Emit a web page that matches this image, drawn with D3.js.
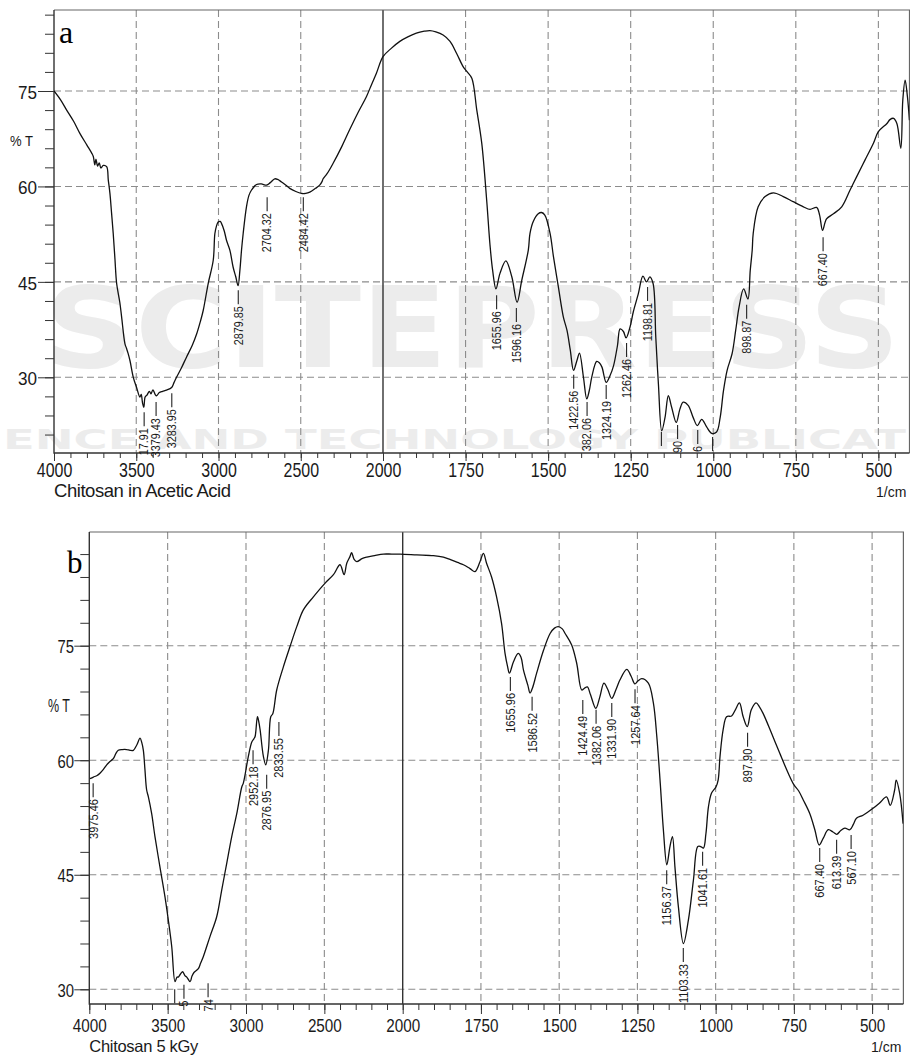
<!DOCTYPE html>
<html><head><meta charset="utf-8">
<script src="https://cdn.jsdelivr.net/npm/d3@7"></script>
<style>body{margin:0;background:#fff} svg{display:block}</style>
</head><body>
<script>
// ---------------- DATA ----------------
const aWave = [4000,3960,3923,3880,3842,3800,3770,3761,3752,3745,3735,3725,3715,3700,3680,3670,3660,3650,3640,3630,3619,3600,3589,3569,3560,3550,3538,3518,3498,3478,3470,3462,3454,3446,3435,3420,3410,3400,3393,3385,3376,3360,3340,3316,3285,3270,3255,3225,3194,3160,3133,3110,3093,3063,3032,3022,3012,3002,2990,2982,2965,2951,2931,2911,2895,2881,2870,2860,2850,2830,2815,2800,2769,2740,2708,2685,2658,2640,2617,2590,2567,2530,2496,2470,2445,2410,2385,2370,2364,2340,2304,2250,2203,2150,2101,2070,2040,2000,1975,1949,1925,1899,1875,1858,1840,1818,1797,1777,1757,1745,1731,1716,1701,1686,1676,1668,1658,1646,1628,1610,1594,1580,1560,1555,1545,1530,1520,1510,1494,1484,1469,1454,1443,1433,1423,1413,1405,1393,1383,1375,1368,1353,1345,1337,1324,1313,1302,1290,1282,1272,1264,1252,1242,1227,1213,1202,1192,1182,1174,1166,1156,1146,1136,1126,1112,1101,1091,1076,1061,1048,1035,1020,1005,990,979,969,958,943,932,922,908,895,888,882,879,864,843,818,788,758,727,707,687,678,669,657,636,611,586,566,541,515,500,474,465,454,444,432,426,419,412,406];
const aT = [75.0,73.6,72.0,70.2,68.3,66.5,65.2,64.7,63.4,64.3,63.2,63.7,62.9,63.3,63.1,61.0,58.9,55.8,52.6,48.8,44.7,41.8,39.5,35.3,34.6,33.8,32.6,30.0,28.4,26.9,27.3,26.0,25.3,26.9,27.2,27.8,27.4,28.0,27.8,27.3,27.1,27.6,27.8,28.0,28.4,29.2,30.0,31.5,33.2,35.0,36.8,38.8,40.5,44.7,48.4,52.6,53.8,54.4,54.5,54.2,53.0,51.5,50.0,47.3,45.8,44.4,46.8,50.0,52.6,56.8,58.6,59.4,60.3,60.4,60.2,60.6,61.2,61.1,60.7,60.2,59.7,59.2,58.9,58.9,59.1,59.7,60.2,60.8,61.2,62.0,63.6,66.3,68.9,71.7,74.1,76.0,77.8,80.4,81.7,82.8,83.5,84.1,84.4,84.5,84.3,83.8,82.8,80.9,78.8,78.0,77.0,72.0,66.8,57.8,50.8,46.8,43.9,46.3,48.3,45.8,41.8,45.2,50.0,52.6,54.5,55.7,55.9,55.5,52.6,49.0,44.2,39.5,37.4,34.3,31.1,32.6,33.8,30.0,26.6,28.0,30.0,32.5,32.3,31.6,29.2,30.2,31.8,35.0,37.6,37.2,36.2,37.9,40.3,43.1,45.9,45.0,45.8,44.7,36.3,28.9,21.6,23.7,27.1,25.3,22.9,25.0,26.1,25.6,23.7,22.4,23.4,22.2,21.2,21.4,23.7,27.9,31.1,33.7,37.4,41.0,43.9,42.3,46.8,50.0,52.6,56.8,58.4,59.0,58.4,57.6,56.8,56.4,56.7,55.5,53.1,54.9,55.7,56.8,59.4,61.5,64.1,66.8,68.6,69.9,70.5,70.7,69.9,66.0,73.6,76.7,74.1,70.4];

const bWave = [3996,3974,3950,3932,3910,3889,3870,3847,3830,3815,3790,3761,3740,3719,3697,3676,3665,3655,3645,3634,3623,3602,3581,3549,3517,3496,3474,3453,3440,3432,3418,3404,3390,3378,3357,3345,3332,3304,3290,3272,3230,3187,3155,3123,3091,3059,3027,3017,2985,2963,2950,2942,2927,2918,2910,2889,2874,2857,2842,2829,2804,2762,2719,2676,2634,2570,2495,2442,2400,2374,2357,2336,2326,2310,2293,2260,2229,2180,2123,2070,2017,1955,1902,1870,1849,1825,1806,1785,1769,1753,1742,1732,1716,1700,1684,1673,1665,1659,1646,1631,1622,1614,1600,1593,1585,1572,1550,1529,1515,1503,1490,1481,1460,1444,1428,1420,1410,1400,1383,1370,1357,1345,1332,1318,1306,1284,1270,1258,1248,1236,1215,1199,1188,1177,1167,1156,1146,1138,1130,1119,1103,1087,1071,1057,1048,1039,1031,1023,1013,999,992,986,976,965,949,937,924,912,899,886,871,860,848,821,795,768,750,735,720,699,683,669,656,640,625,613,600,587,571,560,550,529,497,476,454,442,428,423,412,401];
const bT = [57.6,57.8,58.0,58.3,58.8,59.4,59.8,60.2,60.9,61.3,61.4,61.4,61.3,61.3,62.0,62.9,62.3,61.3,58.8,56.1,55.2,53.0,50.0,46.0,42.1,39.1,35.6,31.0,31.6,31.6,32.0,32.3,31.8,31.6,31.0,31.7,32.2,32.7,33.4,34.3,36.9,39.5,43.0,46.5,50.0,53.0,56.5,57.0,60.5,62.4,62.8,63.1,65.7,65.0,64.0,60.5,59.4,61.3,65.7,66.1,69.2,72.2,74.9,77.5,79.7,81.4,83.2,84.3,85.6,84.3,85.8,86.7,87.2,86.3,86.0,86.4,86.6,86.8,87.0,87.0,87.0,86.9,86.8,86.6,86.3,85.9,85.6,85.1,84.7,86.0,87.1,85.8,84.0,81.4,77.9,74.0,72.3,71.4,72.9,74.0,73.5,71.8,69.8,68.8,69.5,71.4,74.4,76.6,77.3,77.5,77.2,76.6,75.1,72.7,69.2,69.4,69.6,68.6,66.8,68.3,70.1,69.3,68.1,69.3,70.5,71.9,71.0,70.0,70.4,70.7,70.1,67.5,63.1,57.0,50.9,46.3,48.7,50.0,46.0,40.8,36.0,39.1,44.3,48.7,48.7,48.5,50.4,53.9,55.7,56.5,57.4,60.5,64.0,65.7,65.8,66.6,67.5,65.7,64.4,66.6,67.5,67.0,66.1,63.5,60.9,58.3,56.8,56.0,54.8,53.0,50.9,48.9,49.8,50.9,50.6,50.3,50.8,51.1,50.9,51.6,52.4,52.8,53.7,54.4,55.2,54.1,56.1,57.4,55.7,51.7];

// peak annotation labels (wavenumber of leader line, %T at top of leader, visible text)
const aPeakWave = [3452,3379.43,3283.95,2879.85,2704.32,2484.42,1655.96,1596.16,1422.56,1382.06,1324.19,1262.46,1198.81,1157,1108,1047,1002,898.87,667.40];
const aPeakT    = [24.5,26.1,27.5,43.7,58.3,58.3,42.9,40.9,30.4,26.1,28.8,35.4,44.2,21.4,22.5,21.7,20.6,41.4,52.0];
const aPeakText = ["17.91","3379.43","3283.95","2879.85","2704.32","2484.42","1655.96","1596.16","1422.56","382.06","1324.19","1262.46","1198.81","","90","6","","898.87","667.40"];

const bPeakWave = [3975.46,3455,3396,3242,2955,2868,2790,1655.96,1586.52,1424.49,1382.06,1331.90,1257.64,1156.37,1103.33,1041.61,897.90,667.40,613.39,567.10];
const bPeakT    = [57.0,30.0,30.6,30.8,61.3,58.1,65.0,70.9,68.3,67.9,66.6,67.5,69.3,45.6,35.4,48.0,63.6,48.5,49.6,50.2];
const bPeakText = ["3975.46","","5","74","2952.18","2876.95","2833.55","1655.96","1586.52","1424.49","1382.06","1331.90","1257.64","1156.37","1103.33","1041.61","897.90","667.40","613.39","567.10"];

const xMajorTicks = [4000,3500,3000,2500,2000,1750,1500,1250,1000,750,500];
const xGridLines  = [3500,3000,2500,1750,1500,1250,1000,750,500];
const yLabelTicks = [75,60,45,30];
const aTitle = "Chitosan in Acetic Acid";
const bTitle = "Chitosan 5 kGy";
const unitLabel = "1/cm";
const yAxisLabel = "% T";
const watermark1 = "SCITEPRESS";
const watermark2 = "ENCE AND TECHNOLOGY PUBLICAT";

// ---------------- DRAW ----------------
const W = 910, H = 1055;
const svg = d3.select("body").append("svg").attr("width", W).attr("height", H);

function condense(sel, f) {
  sel.each(function () {
    const L = this.getComputedTextLength();
    if (L > 0) d3.select(this).attr("textLength", L * f).attr("lengthAdjust", "spacingAndGlyphs");
  });
}

// watermark (publisher stamp in the background)
const wm = svg.append("g").attr("fill", "#ececec").attr("font-family", "DejaVu Sans").attr("font-weight", "bold");
wm.append("text").attr("x", 44).attr("y", 367).attr("font-size", 112)
  .attr("textLength", 856).attr("lengthAdjust", "spacingAndGlyphs").text(watermark1);
wm.append("text").attr("x", 3).attr("y", 449).attr("font-size", 27)
  .attr("textLength", 903).attr("lengthAdjust", "spacingAndGlyphs").text(watermark2);

const panels = [
  {id: "a", left: 54, right: 909.5, top: 10, bottom: 453, x2000: 383, x400: 911.4, y75: 91, y30: 377.3,
   wave: aWave, t: aT, pkW: aPeakWave, pkT: aPeakT, pkTxt: aPeakText, title: aTitle,
   xFont: 21, xFactor: 0.76, xBase: 23.7, xMaj: 8, xMin: 5,
   yFont: 19, yFactor: 0.9, yLabX: -17, yMaj: 16, yMin: 9,
   pctX: 10, pctY: 146, pctFont: 15, pctLen: 23,
   titleY: 497, titleLen: 177, titleFont: 18.5, unitX: 876, unitY: 497,
   letter: {x: 59, y: 43, size: 32},
   pkFont: 12, pkFactor: 0.9, pkLen: 14},
  {id: "b", left: 89.3, right: 903.4, top: 532, bottom: 1004, x2000: 402.7, x400: 903.4, y75: 645.7, y30: 989.3,
   wave: bWave, t: bT, pkW: bPeakWave, pkT: bPeakT, pkTxt: bPeakText, title: bTitle,
   xFont: 18.6, xFactor: 0.82, xBase: 27.5, xMaj: 10, xMin: 6,
   yFont: 18.6, yFactor: 0.8, yLabX: -15.3, yMaj: 15, yMin: 9,
   pctX: 48, pctY: 711.5, pctFont: 18, pctLen: 22,
   titleY: 1052, titleLen: 109, titleFont: 16.5, unitX: 871, unitY: 1052,
   letter: {x: 67, y: 573, size: 31},
   pkFont: 12.5, pkFactor: 0.88, pkLen: 14}
];

panels.forEach(cfg => {
  const g = svg.append("g").attr("class", "panel-" + cfg.id);
  const x = d3.scaleLinear().domain([4000, 2000, 400]).range([cfg.left, cfg.x2000, cfg.x400]);
  const y = d3.scaleLinear().domain([30, 75]).range([cfg.y30, cfg.y75]);

  // grid
  g.append("g").selectAll("line").data(xGridLines).join("line")
    .attr("x1", d => x(d)).attr("x2", d => x(d)).attr("y1", cfg.top).attr("y2", cfg.bottom)
    .attr("stroke", "#8c8c8c").attr("stroke-width", 1.1).attr("stroke-dasharray", "7,4");
  g.append("g").selectAll("line").data(yLabelTicks).join("line")
    .attr("x1", cfg.left).attr("x2", cfg.right).attr("y1", d => y(d)).attr("y2", d => y(d))
    .attr("stroke", "#8c8c8c").attr("stroke-width", 1.1).attr("stroke-dasharray", "7,4");
  g.append("line").attr("x1", x(2000)).attr("x2", x(2000)).attr("y1", cfg.top).attr("y2", cfg.bottom)
    .attr("stroke", "#333").attr("stroke-width", 1.4);

  // frame
  g.append("path")
    .attr("d", `M${cfg.left},${cfg.top}H${cfg.right}V${cfg.bottom}`)
    .attr("fill", "none").attr("stroke", "#666").attr("stroke-width", 1.2);
  g.append("path")
    .attr("d", `M${cfg.left},${cfg.top}V${cfg.bottom}H${cfg.right}`)
    .attr("fill", "none").attr("stroke", "#333").attr("stroke-width", 1.4);

  // x axis
  const minorVals = d3.range(4000, 2000, -100).concat(d3.range(2000, 400, -50));
  const xMinorAxis = d3.axisBottom(x).tickValues(minorVals).tickSize(cfg.xMin).tickSizeOuter(0).tickFormat("");
  g.append("g").attr("transform", `translate(0,${cfg.bottom})`).attr("color", "#333")
    .call(xMinorAxis).call(s => s.select(".domain").remove());
  const xMajorAxis = d3.axisBottom(x).tickValues(xMajorTicks).tickSize(cfg.xMaj).tickSizeOuter(0).tickFormat(d3.format("d"));
  const gx = g.append("g").attr("transform", `translate(0,${cfg.bottom})`).attr("color", "#333")
    .call(xMajorAxis).call(s => s.select(".domain").remove());
  gx.selectAll("text").attr("y", cfg.xBase).attr("dy", 0)
    .attr("font-family", "Liberation Sans, Arial, sans-serif").attr("font-size", cfg.xFont).attr("fill", "#1a1a1a")
    .call(condense, cfg.xFactor);

  // y axis
  const yLo = Math.ceil(y.invert(cfg.bottom) / 3) * 3;
  const yMinorVals = d3.range(yLo, y.invert(cfg.top), 3);
  const yMinorAxis = d3.axisLeft(y).tickValues(yMinorVals).tickSize(cfg.yMin).tickSizeOuter(0).tickFormat("");
  g.append("g").attr("transform", `translate(${cfg.left},0)`).attr("color", "#333")
    .call(yMinorAxis).call(s => s.select(".domain").remove());
  const yMajorAxis = d3.axisLeft(y).tickValues(yLabelTicks).tickSize(cfg.yMaj).tickSizeOuter(0).tickFormat(d3.format("d"));
  const gy = g.append("g").attr("transform", `translate(${cfg.left},0)`).attr("color", "#333")
    .call(yMajorAxis).call(s => s.select(".domain").remove());
  gy.selectAll("text").attr("x", cfg.yLabX).attr("dy", "0.38em")
    .attr("font-family", "Liberation Sans, Arial, sans-serif").attr("font-size", cfg.yFont).attr("fill", "#1a1a1a")
    .call(condense, cfg.yFactor);

  // texts
  g.append("text").attr("x", cfg.pctX).attr("y", cfg.pctY)
    .attr("font-family", "Liberation Sans, Arial, sans-serif").attr("font-size", cfg.pctFont).attr("fill", "#1a1a1a")
    .attr("textLength", cfg.pctLen).attr("lengthAdjust", "spacingAndGlyphs").text(yAxisLabel);
  g.append("text").attr("x", cfg.left).attr("y", cfg.titleY)
    .attr("font-family", "Liberation Sans, Arial, sans-serif").attr("font-size", cfg.titleFont).attr("fill", "#1a1a1a")
    .attr("textLength", cfg.titleLen).attr("lengthAdjust", "spacing").text(cfg.title);
  g.append("text").attr("x", cfg.unitX).attr("y", cfg.unitY)
    .attr("font-family", "Liberation Sans, Arial, sans-serif").attr("font-size", 14).attr("fill", "#1a1a1a")
    .text(unitLabel);
  g.append("text").attr("x", cfg.letter.x).attr("y", cfg.letter.y)
    .attr("font-family", "Liberation Serif, Times New Roman, serif").attr("font-size", cfg.letter.size)
    .attr("fill", "#000").text(cfg.id);

  // spectrum
  const clipId = "clip-" + cfg.id;
  g.append("clipPath").attr("id", clipId).append("rect")
    .attr("x", cfg.left).attr("y", cfg.top).attr("width", cfg.right - cfg.left).attr("height", cfg.bottom - cfg.top);
  const line = d3.line().x(d => x(d[0])).y(d => y(d[1])).curve(d3.curveCatmullRom.alpha(0.5));
  g.append("path").datum(d3.zip(cfg.wave, cfg.t)).attr("clip-path", `url(#${clipId})`)
    .attr("d", line).attr("fill", "none").attr("stroke", "#111").attr("stroke-width", 1.3)
    .attr("stroke-linejoin", "round");

  // peak labels
  const pk = g.append("g").selectAll("g").data(d3.zip(cfg.pkW, cfg.pkT, cfg.pkTxt)).join("g")
    .attr("transform", d => `translate(${x(d[0])},${y(d[1])})`);
  pk.append("line").attr("x1", 0).attr("x2", 0).attr("y1", 0).attr("y2", cfg.pkLen)
    .attr("stroke", "#222").attr("stroke-width", 1.1);
  pk.filter(d => d[2] !== "").append("text").attr("transform", `translate(0,${cfg.pkLen + 2}) rotate(-90)`)
    .attr("text-anchor", "end").attr("dy", "0.36em")
    .attr("font-family", "Liberation Sans, Arial, sans-serif").attr("font-size", cfg.pkFont).attr("fill", "#1a1a1a")
    .text(d => d[2]).call(condense, cfg.pkFactor);
});
</script>
</body></html>
